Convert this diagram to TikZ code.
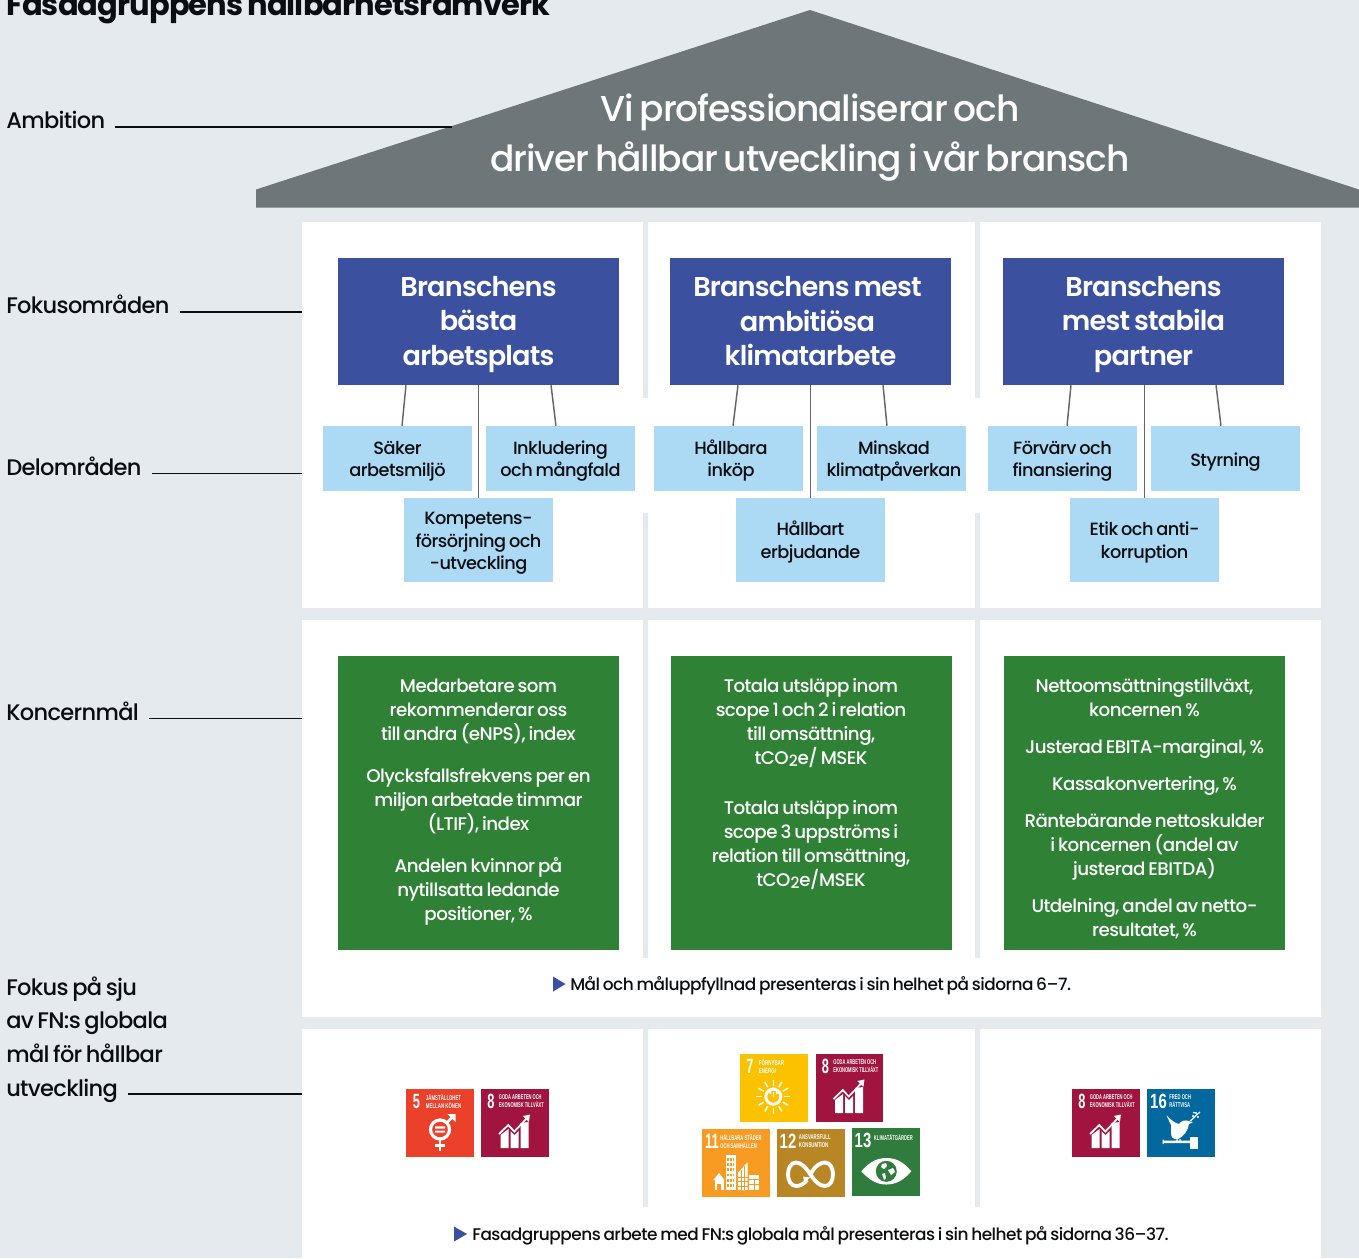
\documentclass[tikz,border=0pt]{standalone}
\usepackage{fontspec}
\setmainfont{Poppins}[UprightFont=* Medium,BoldFont=* SemiBold,LetterSpace=-3,WordSpace=0.7]
\newfontfamily\heavyfont{Poppins Bold}[LetterSpace=-3,WordSpace=0.7]
\newfontfamily\tinyfont{Liberation Sans}
\definecolor{bgc}{HTML}{E4EAEE}
\definecolor{roofc}{HTML}{6D7678}
\definecolor{bluec}{HTML}{3B519F}
\definecolor{lightc}{HTML}{ACD9F3}
\definecolor{greenc}{HTML}{2F8235}
\definecolor{ink}{HTML}{0B0E11}
\definecolor{sdgA}{HTML}{EB402A}
\definecolor{sdgB}{HTML}{A0143F}
\definecolor{sdgC}{HTML}{FCC200}
\definecolor{sdgD}{HTML}{F89B23}
\definecolor{sdgE}{HTML}{B88625}
\definecolor{sdgF}{HTML}{2F7C3D}
\definecolor{sdgG}{HTML}{02689D}
\newcommand{\fs}[2]{\fontsize{#1}{#2}\selectfont}
\newcommand{\cotwo}{tCO\raisebox{-1.6pt}{\scalebox{.85}{2}}e}
\newcommand{\sq}[2]{\scalebox{#1}[1]{#2}}
\newcommand{\bT}{\leavevmode\rule{0pt}{19.5pt}}
\newcommand{\bB}{\rule[-5pt]{0pt}{5pt}}
\newcommand{\lT}{\leavevmode\rule{0pt}{14.5pt}}
\newcommand{\lB}{\rule[-3.75pt]{0pt}{3.75pt}}
\tikzset{
 panel/.style={fill=white,draw=none},
 sep/.style={fill=bgc,draw=none},
 leader/.style={draw=ink,line width=1.4pt},
 tie/.style={draw=black!60,line width=1.1pt},
 lab/.style={font=\fs{16.9}{24},text=ink,inner sep=0pt,anchor=west,align=left},
 bluebox/.style={fill=bluec,text=white,inner sep=0pt,minimum width=211pt,minimum height=95.25pt,align=center,font=\bfseries\fs{20.4}{25.9}},
 lightbox/.style={fill=lightc,text=ink,inner sep=0pt,minimum width=111.75pt,align=center,font=\fs{13.3}{16.8}},
 greenbox/.style={fill=greenc,inner sep=0pt,minimum width=211pt,minimum height=220.5pt},
 greentext/.style={text=white,inner sep=0pt,anchor=north,align=center,font=\fs{13.7}{18}},
 note/.style={text=ink,inner sep=0pt,anchor=west,font=\fs{12.7}{16}},
 num/.style={text=white,inner sep=0pt,anchor=north,font=\tinyfont\bfseries\fs{15.5}{15.5}},
 small/.style={text=white,inner sep=0pt,anchor=north west,align=left,font=\tinyfont\bfseries\fs{5.2}{5.8}},
 ic/.style={draw=white,line width=1.7pt,line cap=butt},
 sdg8/.pic={
  \fill[sdgB] (0,0) rectangle (67.5,68);
  \node[num] (n) at (10,4.5) {\sq{.62}{8}};
  \node[small] (t) at (17.7,5.5) {\sq{.58}{GODA ARBETEN OCH}\\\sq{.58}{EKONOMISK TILLVÄXT}};
  \fill[white] (19.5,46) -- (27.5,40) -- (27.5,59) -- (19.5,59) -- cycle;
  \fill[white] (29.5,42) -- (33.5,46) -- (37.5,42) -- (37.5,59) -- (29.5,59) -- cycle;
  \fill[white] (39.5,34) -- (47.5,33) -- (47.5,59) -- (39.5,59) -- cycle;
  \draw[white,line width=1.3pt] (18,45) -- (27.3,36) -- (33.3,42.5) -- (46,29);
  \fill[white] (49,25.5) -- (47.8,33) -- (41.8,27) -- cycle;
 },
 sdg5/.pic={
  \fill[sdgA] (0,0) rectangle (67.5,68);
  \node[num] (n) at (10.5,4.5) {\sq{.62}{5}};
  \node[small] (t) at (19.7,5.5) {\sq{.63}{JÄMSTÄLLDHET}\\\sq{.63}{MELLAN KÖNEN}};
  \draw[ic,line width=2.4pt] (34,40.5) circle (9.5);
  \draw[ic,line width=1.9pt] (34,50) -- (34,62) (29,56.5) -- (39,56.5);
  \draw[ic,line width=1.9pt] (41,33.5) -- (47,27.5);
  \fill[white] (49.5,25) -- (49.5,33) -- (41.5,25) -- cycle;
  \fill[white] (29,37.3) rectangle (39,39.5) (29,41.5) rectangle (39,43.7);
 },
 sdg7/.pic={
  \fill[sdgC] (0,0) rectangle (67.5,68);
  \node[num] (n) at (10,4.5) {\sq{.62}{7}};
  \node[small] (t) at (18.7,5.5) {\sq{.64}{FÖRNYBAR}\\\sq{.64}{ENERGI}};
  \draw[ic,line width=2.2pt] (33.3,42.7) circle (7.5);
  \draw[ic,line width=1.2pt] (30.8,40) arc[start angle=140,end angle=400,radius=3.6];
  \draw[ic,line width=1.2pt] (33.3,37.5) -- (33.3,42.5);
  \foreach \a in {0,30,...,330}
   \draw[white,line width=1.1pt] ($(33.3,42.7)+(\a:11)$) -- ($(33.3,42.7)+(\a:17)$);
 },
 sdg11/.pic={
  \fill[sdgD] (0,0) rectangle (68,68);
  \node[num] (n) at (10,4.5) {\sq{.62}{11}};
  \node[small] (t) at (18,5.5) {\sq{.6}{HÅLLBARA STÄDER}\\\sq{.6}{OCH SAMHÄLLEN}};
  \fill[white] (11.3,51) -- (17,44) -- (22.5,51) -- cycle;
  \fill[white] (12.5,51) rectangle (21.5,61);
  \fill[sdgD] (15.3,55) rectangle (18.5,61);
  \fill[white] (23.5,26) rectangle (34,61);
  \foreach \i in {0,1,2,3,4,5} \foreach \j in {0,1,2}
   \fill[sdgD] (25+\j*2.9,29+\i*5.2) rectangle ++(1.6,2.8);
  \fill[white] (35.8,44) -- (45.7,33) -- (45.7,61) -- (35.8,61) -- cycle;
  \foreach \i in {0,1,2} \draw[sdgD,line width=.6pt] (36,48+\i*4.5) -- (45.7,48+\i*4.5);
  \draw[sdgD,line width=.6pt] (39,41) -- (39,61) (42.4,37) -- (42.4,61);
  \fill[white] (46.8,46) rectangle (57,61);
  \draw[sdgD,line width=.7pt] (46.8,50) -- (57,50) (46.8,55) -- (57,55) (52,50) -- (52,61);
 },
 sdg12/.pic={
  \fill[sdgE] (0,0) rectangle (68,68);
  \node[num] (n) at (11,4.5) {\sq{.72}{12}};
  \node[small] (t) at (21.7,5.5) {\sq{.62}{ANSVARSFULL}\\\sq{.62}{KONSUMTION}};
  \draw[white,line width=2.9pt] (33.3,45.3) .. controls (39,35) and (45,33.5) .. (48,33.5) .. controls (53,33.5) and (56,39) .. (56,45.3) .. controls (56,51.5) and (53,57) .. (48,57) .. controls (42,57) and (38,52) .. (33.3,45.3) .. controls (28,37) and (23,33.5) .. (19,33.5) .. controls (14,33.5) and (11,39) .. (11,45.3) .. controls (11,51.5) and (14,57) .. (19,57) .. controls (23,57) and (27,55) .. (30,51);
  \fill[white] (26,47.5) -- (33,48.5) -- (27.5,54) -- cycle;
 },
 sdg13/.pic={
  \fill[sdgF] (0,0) rectangle (68,68);
  \node[num] (n) at (11,5) {\sq{.72}{13}};
  \node[small] (t) at (21.7,6) {\sq{.6}{KLIMATÅTGÄRDER}};
  \fill[white] (9.3,43.3) .. controls (18,33) and (26,30) .. (34.3,30) .. controls (43,30) and (51,33) .. (59.3,43.3) .. controls (51,53) and (43,56.5) .. (34.3,56.5) .. controls (26,56.5) and (18,53) .. (9.3,43.3) -- cycle;
  \fill[sdgF] (34.3,43.3) circle (10.5);
  \fill[white] (30,36) -- (34,35) -- (35,38) -- (32,41) -- (29,39) -- cycle;
  \fill[white] (36,42) -- (41,40) -- (43,44) -- (39,47) -- cycle;
  \fill[white] (30,46) -- (33,45) -- (34,50) -- (32,52) -- cycle;
 },
 sdg16/.pic={
  \fill[sdgG] (0,0) rectangle (68,68);
  \node[num] (n) at (11.5,4.5) {\sq{.72}{16}};
  \node[small] (t) at (22,5.5) {\sq{.6}{FRED OCH}\\\sq{.6}{RÄTTVISA}};
  \fill[white] (19.5,26.5) .. controls (24,31) and (28,34) .. (32,35) .. controls (34,32) and (38,30) .. (43,32.5) -- (46,33) -- (42,35) .. controls (41,42) and (36,48) .. (31,50) .. controls (26,51) and (24,48) .. (24,44) -- (24,36) -- cycle;
  \draw[white,line width=.9pt] (30,50) -- (30,53) (33,50) -- (33,53) (43,32) .. controls (47,29) and (49,26) .. (53,23);
  \fill[white] (46,27) circle (1.1) (49,24) circle (1.1) (51,28) circle (1.1) (47,23.5) circle (1);
  \fill[white] (15.5,51.7) rectangle (43,54) (15.5,50.5) rectangle (16.5,55);
  \fill[white] (43,47.5) rectangle (51,59.5);
 }
}
\usetikzlibrary{calc}
\begin{document}
\begin{tikzpicture}[x=0.75pt,y=-0.75pt]
\useasboundingbox[fill=bgc] (0,0) rectangle (1359,1258);
% roof
\fill[roofc] (810,10) -- (1359,189.5) -- (1359,207.5) -- (256,207.5) -- (256,189.5) -- cycle;
\node[inner sep=0pt,text=white,align=center,font=\fs{27}{37.5}] (roof) at (810,137) {Vi professionaliserar och\\driver hållbar utveckling i vår bransch};
\node[inner sep=0pt,anchor=base west,text=ink,font=\heavyfont\fs{22.9}{28}] (title) at (6,15) {Fasadgruppens hållbarhetsramverk};
% panels
\fill[panel] (302,222) rectangle (1321,608);
\fill[panel] (302,620) rectangle (1321,1017);
\fill[panel] (302,1029) rectangle (1321,1258);
\fill[sep] (643,222) rectangle (648,398) (643,513) rectangle (648,608) (975,222) rectangle (980,398) (975,513) rectangle (980,608);
\fill[sep] (643,620) rectangle (648,958) (975,620) rectangle (980,958);
\fill[sep] (643,1029) rectangle (648,1207) (975,1029) rectangle (980,1207);
% left labels
\node[lab] (lAmb) at (6,120) {Ambition};
\node[lab] (lFok) at (6,304.5) {Fokusområden};
\node[lab] (lDel) at (6,466.5) {Delområden};
\node[lab] (lKon) at (6,711.5) {Koncernmål};
\node[lab,anchor=north west,font=\fs{16.9}{25.2}] (lFN) at (6,976.5) {Fokus på sju\\av FN:s globala\\mål för hållbar\\utveckling};
\coordinate (eAmb) at (452,127);
\coordinate (eFok) at (302,312);
\coordinate (eDel) at (302,473.5);
\coordinate (eKon) at (302,718.5);
\coordinate (eFN) at (302,1094);
\draw[leader] ([xshift=7.5pt]lAmb.east |- eAmb) -- (eAmb);
\draw[leader] ([xshift=7.5pt]lFok.east |- eFok) -- (eFok);
\draw[leader] ([xshift=7.5pt]lDel.east |- eDel) -- (eDel);
\draw[leader] ([xshift=7.5pt]lKon.east |- eKon) -- (eKon);
\coordinate (sFN) at (128,1094);
\draw[leader] (sFN) -- (eFN);
% blue boxes
\node[bluebox] (b1) at (478.5,321.5) {\bT Branschens\\bästa\\arbetsplats\bB};
\node[bluebox] (b2) at (810.5,321.5) {\bT\hspace*{-4.5pt}Branschens mest\\\hspace*{-4.5pt}ambitiösa\\klimatarbete\bB};
\node[bluebox] (b3) at (1143.5,321.5) {\bT Branschens\\mest stabila\\partner\bB};
% light boxes
\node[lightbox,minimum height=48.75pt] (s11) at (397.5,458.5) {\lT Säker\\arbetsmiljö\lB};
\node[lightbox,minimum height=48.75pt] (s12) at (560.5,458.5) {\lT Inkludering\\och mångfald\lB};
\node[lightbox,minimum height=63pt] (s13) at (478.5,540) {\lT Kompetens-\\försörjning och\\-utveckling\lB};
\node[lightbox,minimum height=48.75pt] (s21) at (728.5,458.5) {\lT\hspace*{3.75pt}Hållbara\\\hspace*{3.75pt}inköp\lB};
\node[lightbox,minimum height=48.75pt] (s22) at (891.5,458.5) {\lT\hspace*{3.75pt}Minskad\\\hspace*{3.75pt}klimatpåverkan\lB};
\node[lightbox,minimum height=63pt] (s23) at (810.5,540) {\lT Hållbart\\erbjudande\lB};
\node[lightbox,minimum height=48.75pt] (s31) at (1062.5,458.5) {\lT Förvärv och\\finansiering\lB};
\node[lightbox,minimum height=48.75pt] (s32) at (1225.5,458.5) {\leavevmode\rule{0pt}{18.5pt}Styrning\rule[-6pt]{0pt}{6pt}};
\node[lightbox,minimum height=63pt] (s33) at (1144.5,540) {\lT Etik och anti-\\korruption\lB};
% ties
\draw[tie] ([xshift=-54.4pt]b1.south) -- ([xshift=3.4pt]s11.north);
\draw[tie] (b1.south) -- (s13.north);
\draw[tie] ([xshift=54.4pt]b1.south) -- ([xshift=-3.4pt]s12.north);
\draw[tie] ([xshift=-54.4pt]b2.south) -- ([xshift=3.4pt]s21.north);
\draw[tie] (b2.south -| s23.north) -- (s23.north);
\draw[tie] ([xshift=54.4pt]b2.south) -- ([xshift=-3.4pt]s22.north);
\draw[tie] ([xshift=-54.4pt]b3.south) -- ([xshift=3.4pt]s31.north);
\draw[tie] (b3.south -| s33.north) -- (s33.north);
\draw[tie] ([xshift=54.4pt]b3.south) -- ([xshift=-3.4pt]s32.north);
% green boxes
\node[greenbox] (g1) at (478.5,803) {};
\node[greenbox] (g2) at (811.5,803) {};
\node[greenbox] (g3) at (1144.5,803) {};
\node[greentext] (gt1) at (478.5,678.5) {Medarbetare som\\rekommenderar oss\\till andra (eNPS), index\\[13.5pt]Olycksfallsfrekvens per en\\miljon arbetade timmar\\(LTIF), index\\[13.5pt]Andelen kvinnor på\\nytillsatta ledande\\positioner, \%};
\node[greentext] (gt2) at (811,678) {Totala utsläpp inom\\scope 1 och 2 i relation\\till omsättning,\\\cotwo/ MSEK\\[19.5pt]Totala utsläpp inom\\scope 3 uppströms i\\relation till omsättning,\\\cotwo/MSEK};
\node[greentext] (gt3) at (1144.5,678) {Nettoomsättningstillväxt,\\koncernen \%\\[9.75pt]Justerad EBITA-marginal, \%\\[9.75pt]Kassakonvertering, \%\\[9.75pt]Räntebärande nettoskulder\\i koncernen (andel av\\justerad EBITDA)\\[9.75pt]Utdelning, andel av netto-\\resultatet, \%};
% notes
\fill[bluec] (553,976.5) -- (565.5,984) -- (553,991.5) -- cycle;
\node[note] (n1) at (570,985.5) {Mål och måluppfyllnad presenteras i sin helhet på sidorna 6–7.};
\fill[bluec] (454,1226.5) -- (467,1234) -- (454,1241.5) -- cycle;
\node[note] (n2) at (472,1235.5) {Fasadgruppens arbete med FN:s globala mål presenteras i sin helhet på sidorna 36–37.};
% SDG tiles
\pic (ta) at (406,1089) {sdg5};
\pic (tb) at (481,1089) {sdg8};
\pic (tc) at (740,1054) {sdg7};
\pic (td) at (815.5,1054) {sdg8};
\pic (te) at (702,1129) {sdg11};
\pic (tf) at (777,1129) {sdg12};
\pic (tg) at (852,1128) {sdg13};
\pic (th) at (1072,1089) {sdg8};
\pic (ti) at (1147,1089) {sdg16};
\end{tikzpicture}
\end{document}
